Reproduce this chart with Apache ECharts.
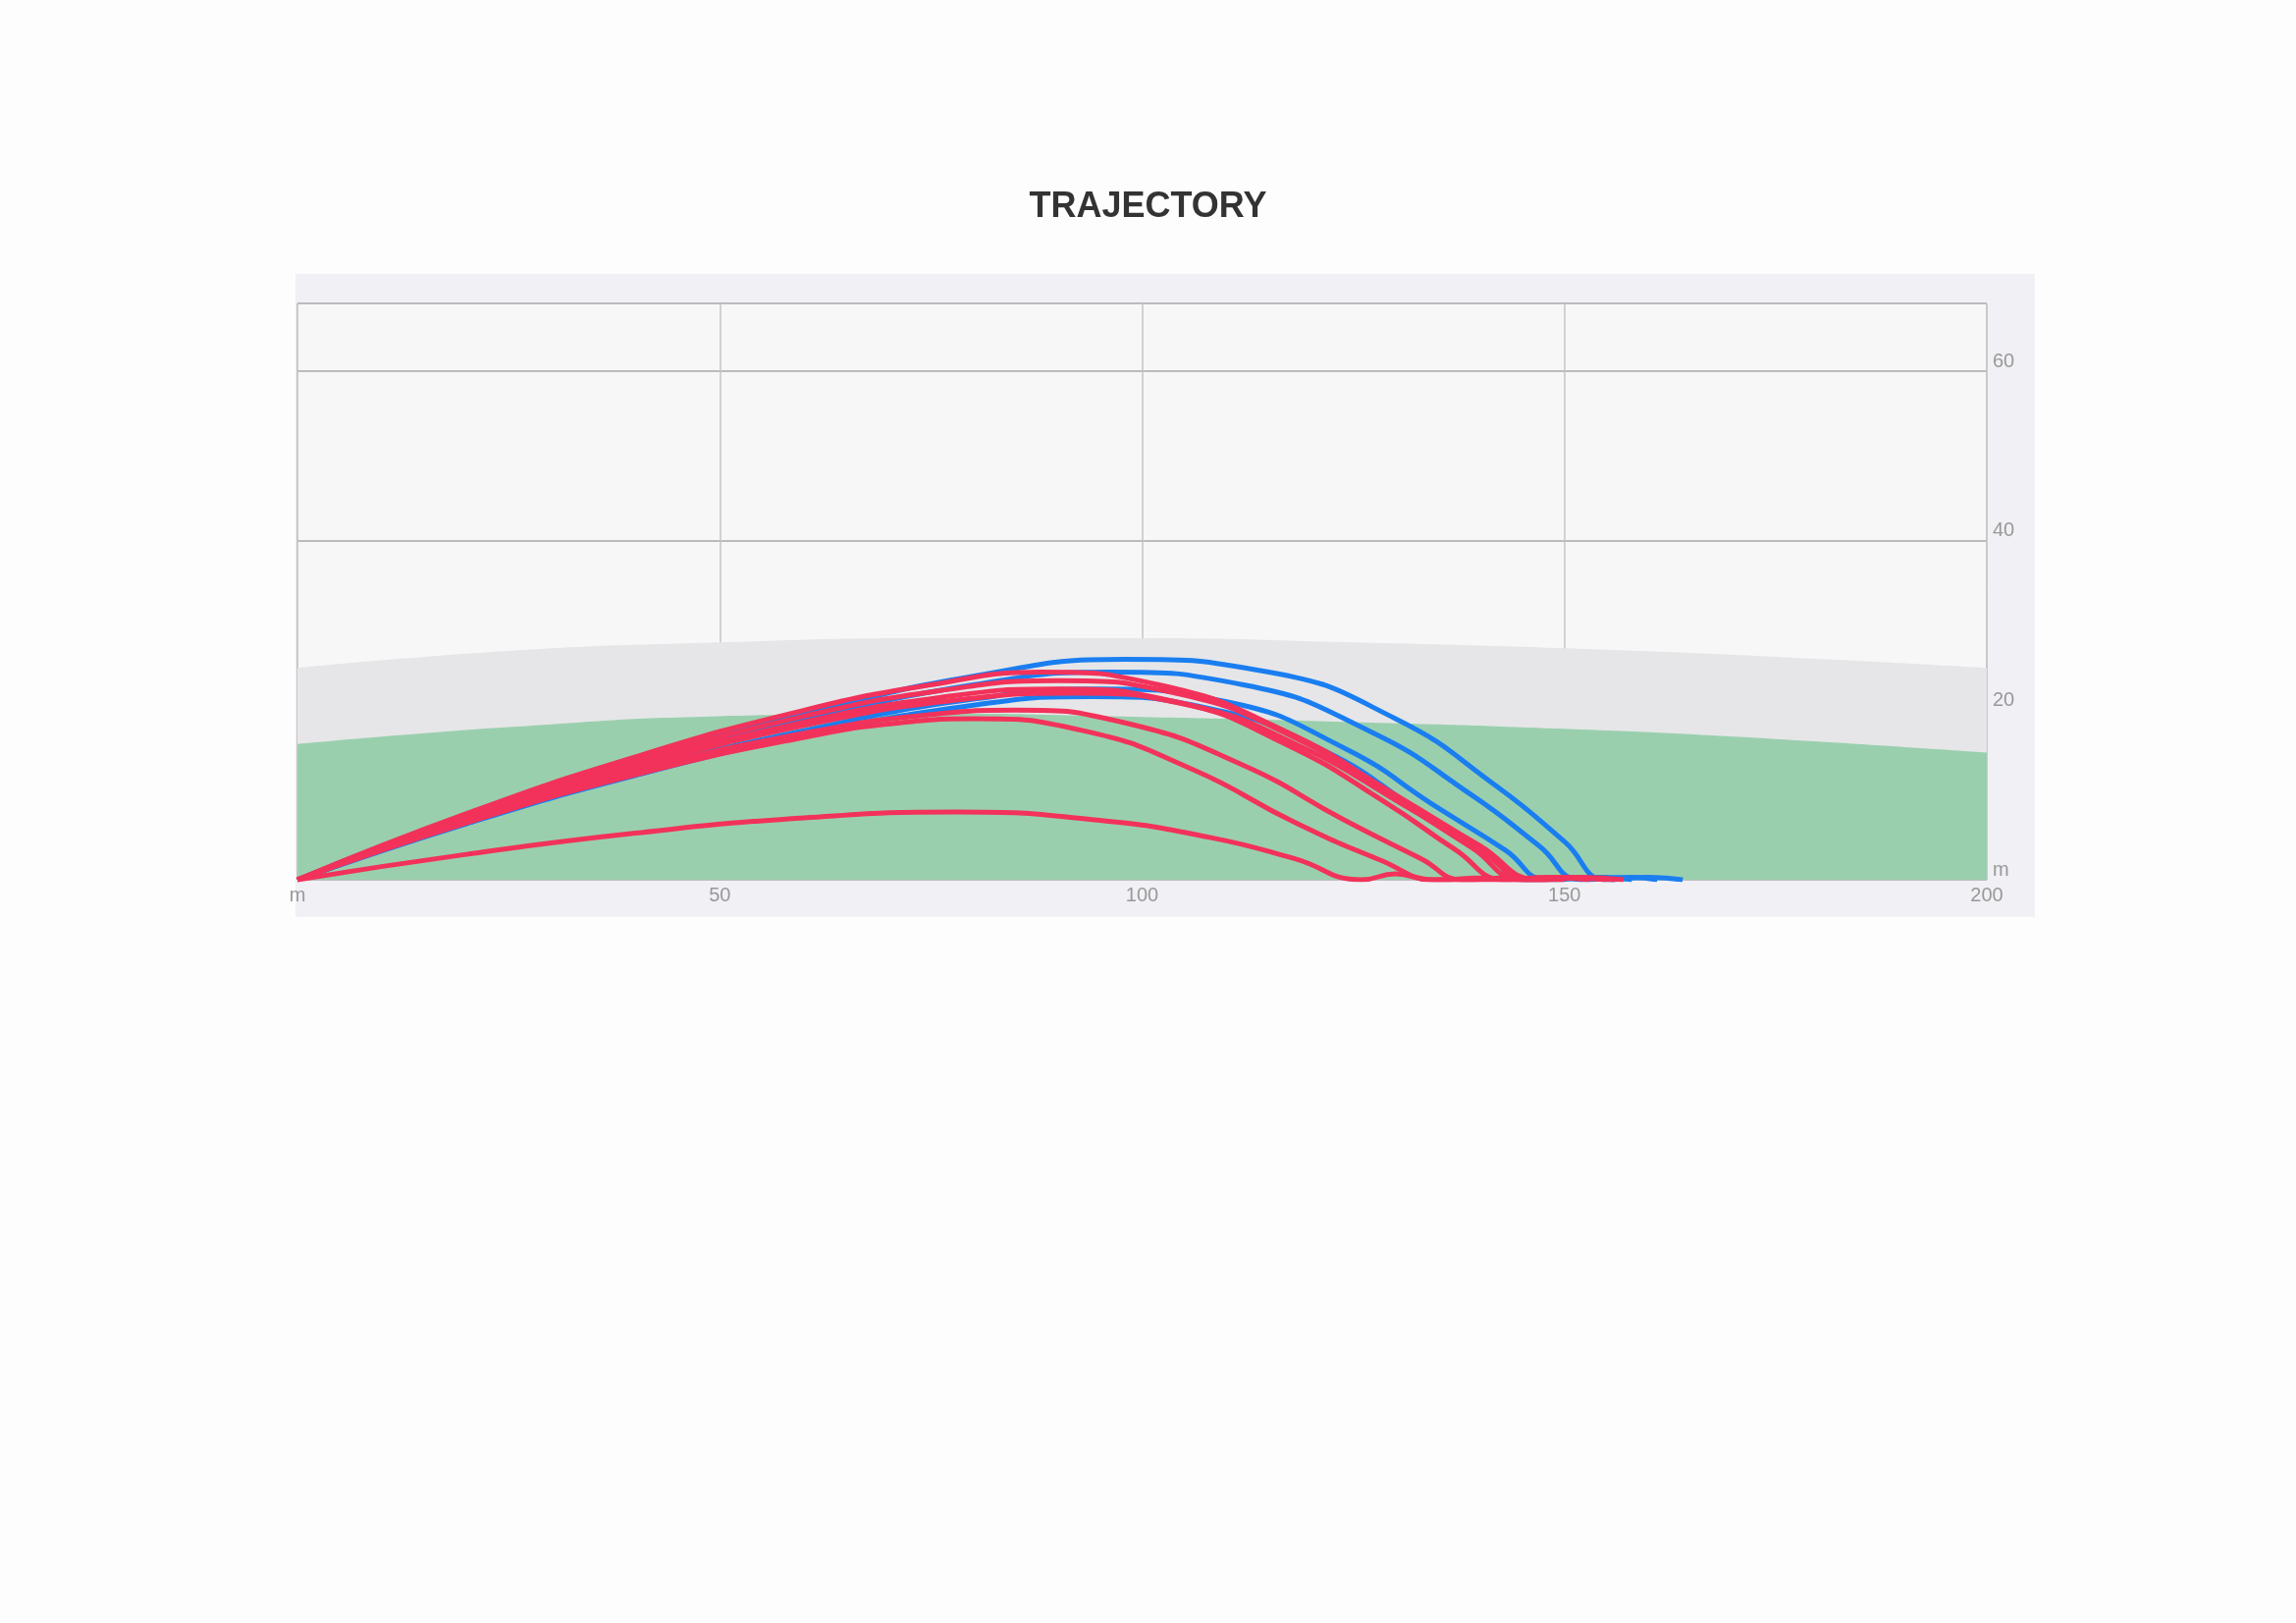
<!DOCTYPE html>
<html>
<head>
<meta charset="utf-8">
<script src="https://cdn.jsdelivr.net/npm/echarts@6/dist/echarts.min.js"></script>
<style>
  body { margin: 0; background: #fdfdfd; }
  #panel { position: absolute; left: 301px; top: 279px; width: 1772px; height: 655px; background: #f0f0f5; }
  #main { position: absolute; left: 0; top: 0; width: 2339px; height: 1653px; }
</style>
</head>
<body>
<div id="panel"></div>
<div id="main"></div>
<script>
// background bands (distance m, height m)
var skyBand = [[0, 25], [25, 27], [50, 28], [75, 28.5], [100, 28.5], [125, 28], [150, 27.3], [175, 26.3], [200, 25]];
var greenBand = [[0, 16], [25, 18], [50, 19.3], [75, 19.6], [100, 19.2], [125, 18.6], [150, 17.8], [175, 16.6], [200, 15]];

// blue trajectories
var blue1 = [[0, 0], [20, 7.5], [40, 14], [60, 19.5], [80, 24], [98, 26], [115, 24.5], [130, 19], [142, 11], [150, 4.5], [155, 0], [160, 0.3], [164, 0]];
var blue2 = [[0, 0], [20, 7.3], [40, 13.6], [60, 18.8], [80, 23], [96, 24.5], [112, 23], [127, 17.5], [139, 10], [147, 4], [152, 0], [158, 0.3], [161, 0]];
var blue3 = [[0, 0], [20, 6.8], [40, 12.8], [60, 17.6], [80, 21.3], [95, 22.5], [110, 21], [124, 15.5], [135, 8.5], [143, 3.5], [148, 0], [155, 0.3], [158, 0]];
var blue4 = [[0, 0], [20, 6.6], [40, 12.3], [60, 17], [80, 20.6], [94, 21.6], [108, 20.2], [122, 15], [133, 8], [141, 3.2], [145, 0], [152, 0.2], [156, 0]];

// red trajectories
var red1 = [[0, 0], [20, 7.8], [40, 14.5], [60, 20], [75, 23], [88, 24.5], [102, 23], [117, 17.5], [130, 10], [140, 4], [147, 0], [152, 0.3], [157, 0]];
var red2 = [[0, 0], [20, 7.5], [40, 14], [60, 19.3], [76, 22.3], [90, 23.5], [104, 22], [118, 16.8], [130, 9.5], [139, 3.8], [145, 0], [150, 0.3], [155, 0]];
var red3 = [[0, 0], [20, 7.3], [40, 13.6], [60, 18.6], [76, 21.5], [90, 22.5], [104, 21], [117, 16], [129, 9], [137, 3.6], [143, 0], [148, 0.3], [153, 0]];
var red4 = [[0, 0], [20, 7.1], [40, 13.2], [60, 18.2], [78, 21.2], [92, 22], [106, 20.5], [119, 15.6], [131, 8.8], [140, 3.5], [146, 0], [151, 0.2], [156, 0]];
var red5 = [[0, 0], [20, 6.9], [40, 12.8], [60, 17.3], [75, 19.5], [85, 20], [98, 18.5], [112, 13.5], [124, 7], [133, 2.5], [138, 0], [143, 0.2], [148, 0]];
var red6 = [[0, 0], [20, 6.7], [40, 12.4], [60, 16.8], [72, 18.6], [80, 19], [93, 17.6], [106, 13], [118, 6.8], [128, 2.4], [135, 0], [140, 0.2], [146, 0]];
var red7 = [[0, 0], [20, 3], [40, 5.5], [60, 7.3], [78, 8], [95, 7], [108, 5], [118, 2.5], [126, 0], [130, 0.7], [134, 0], [140, 0], [150, 0]];

var blues = [blue1, blue2, blue3, blue4];
var reds = [red1, red2, red3, red4, red5, red6, red7];
var xTicks = [0, 50, 100, 150, 200];

var series = [
  { type: 'line', data: skyBand, smooth: true, symbol: 'none', lineStyle: { width: 0 }, areaStyle: { color: '#e6e6e8', opacity: 1 }, z: 1 },
  { type: 'line', data: greenBand, smooth: true, symbol: 'none', lineStyle: { width: 0 }, areaStyle: { color: '#9acfae', opacity: 1 }, z: 2 }
];
blues.forEach(function (d) {
  series.push({ type: 'line', data: d, smooth: true, symbol: 'none', lineStyle: { color: '#1a7ef0', width: 5 }, z: 3 });
});
reds.forEach(function (d) {
  series.push({ type: 'line', data: d, smooth: true, symbol: 'none', lineStyle: { color: '#f2325a', width: 5 }, z: 4 });
});

var chart = echarts.init(document.getElementById('main'));
chart.setOption({
  animation: false,
  title: {
    text: 'TRAJECTORY', left: 'center', top: 188,
    textStyle: { fontFamily: 'Liberation Sans', fontSize: 36, fontWeight: 'bold', color: '#333' }
  },
  grid: { left: 303, top: 309, width: 1721, height: 587, show: true, backgroundColor: '#f7f7f7', borderColor: '#bbb', borderWidth: 1 },
  xAxis: {
    type: 'value', min: 0, max: 200, interval: 50,
    axisLine: { show: false }, axisTick: { show: false },
    splitLine: { lineStyle: { color: '#c4c4c4', width: 1.5 } },
    axisLabel: {
      color: '#999', fontSize: 20, fontFamily: 'Liberation Sans', margin: 6,
      formatter: function (v) { return v === 0 ? 'm' : (xTicks.indexOf(v) >= 0 ? String(v) : ''); }
    }
  },
  yAxis: {
    type: 'value', position: 'right', min: 0, max: 68, interval: 20,
    axisLine: { show: false }, axisTick: { show: false },
    splitLine: { lineStyle: { color: '#bbb', width: 2 } },
    axisLabel: {
      color: '#999', fontSize: 20, fontFamily: 'Liberation Sans', margin: 6, verticalAlign: 'bottom',
      formatter: function (v) { return v === 0 ? 'm' : (v % 20 === 0 ? String(v) : ''); }
    }
  },
  series: series
});
</script>
</body>
</html>
